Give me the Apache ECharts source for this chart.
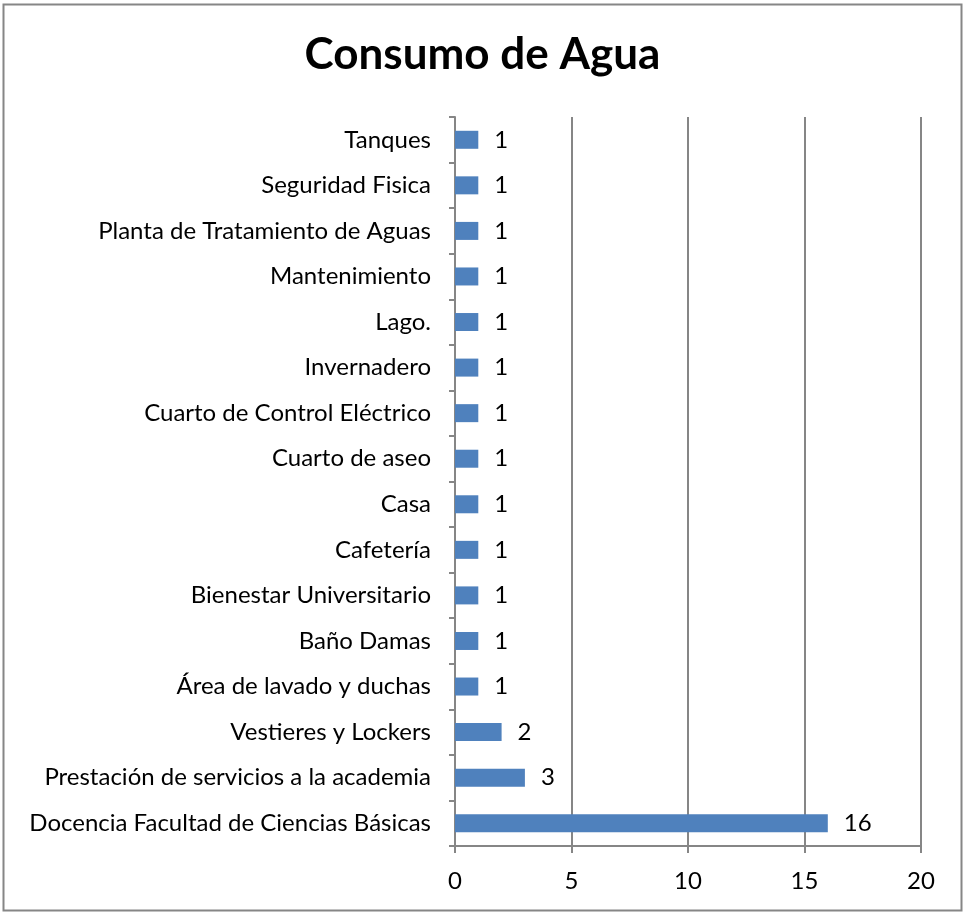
<!DOCTYPE html>
<html>
<head>
<meta charset="utf-8">
<script src="https://cdn.jsdelivr.net/npm/echarts@6/dist/echarts.min.js"></script>
<style>
    html, body { margin: 0; padding: 0; background: #fff; }
    #chart { width: 965px; height: 913px; }
</style>
</head>
<body>
<div id="chart"></div>
<script>
    // categories listed bottom-to-top, as the category axis draws them
    const categorias = [
        'Docencia Facultad de Ciencias Básicas',
        'Prestación de servicios a la academia',
        'Vestieres y Lockers',
        'Área de lavado y duchas',
        'Baño Damas',
        'Bienestar Universitario',
        'Cafetería',
        'Casa',
        'Cuarto de aseo',
        'Cuarto de Control Eléctrico',
        'Invernadero',
        'Lago.',
        'Mantenimiento',
        'Planta de Tratamiento de Aguas',
        'Seguridad Fisica',
        'Tanques'
    ]
    const consumo = [16, 3, 2, 1, 1, 1, 1, 1, 1, 1, 1, 1, 1, 1, 1, 1]
    const ejeX = [0, 5, 10, 15, 20]

    const fuente = 'Lato, "Open Sans", sans-serif'
    const gris = '#868686'

    const chart = echarts.init(document.getElementById('chart'))
    chart.setOption({
        animation: false,
        backgroundColor: '#fff',
        title: {
            text: 'Consumo de Agua',
            left: 'center',
            top: 28,
            textStyle: {
                fontFamily: fuente,
                fontSize: 44,
                fontWeight: 'bold',
                color: '#000'
            }
        },
        graphic: [{
            type: 'rect',
            shape: { x: 3.5, y: 4.5, width: 958, height: 906 },
            style: { fill: 'none', stroke: gris, lineWidth: 2 }
        }],
        grid: {
            left: 455,
            right: 44,
            top: 117,
            bottom: 67
        },
        xAxis: {
            type: 'value',
            min: ejeX[0],
            max: ejeX[ejeX.length - 1],
            interval: 5,
            axisLine: { show: true, lineStyle: { color: gris, width: 2 } },
            axisTick: { show: true, length: 7, lineStyle: { color: gris, width: 2 } },
            splitLine: { show: true, lineStyle: { color: gris, width: 2 } },
            axisLabel: {
                margin: 23,
                fontFamily: fuente,
                fontSize: 24,
                color: '#000'
            }
        },
        yAxis: {
            type: 'category',
            data: categorias,
            axisLine: { show: true, lineStyle: { color: gris, width: 2 } },
            axisTick: { show: true, length: 6, lineStyle: { color: gris, width: 2 } },
            axisLabel: {
                margin: 24,
                fontFamily: fuente,
                fontSize: 24,
                color: '#000'
            }
        },
        series: [{
            type: 'bar',
            data: consumo,
            barWidth: 18,
            itemStyle: { color: '#4f81bd' },
            label: {
                show: true,
                position: 'right',
                distance: 16,
                fontFamily: fuente,
                fontSize: 24,
                color: '#000'
            }
        }]
    })
</script>
</body>
</html>
